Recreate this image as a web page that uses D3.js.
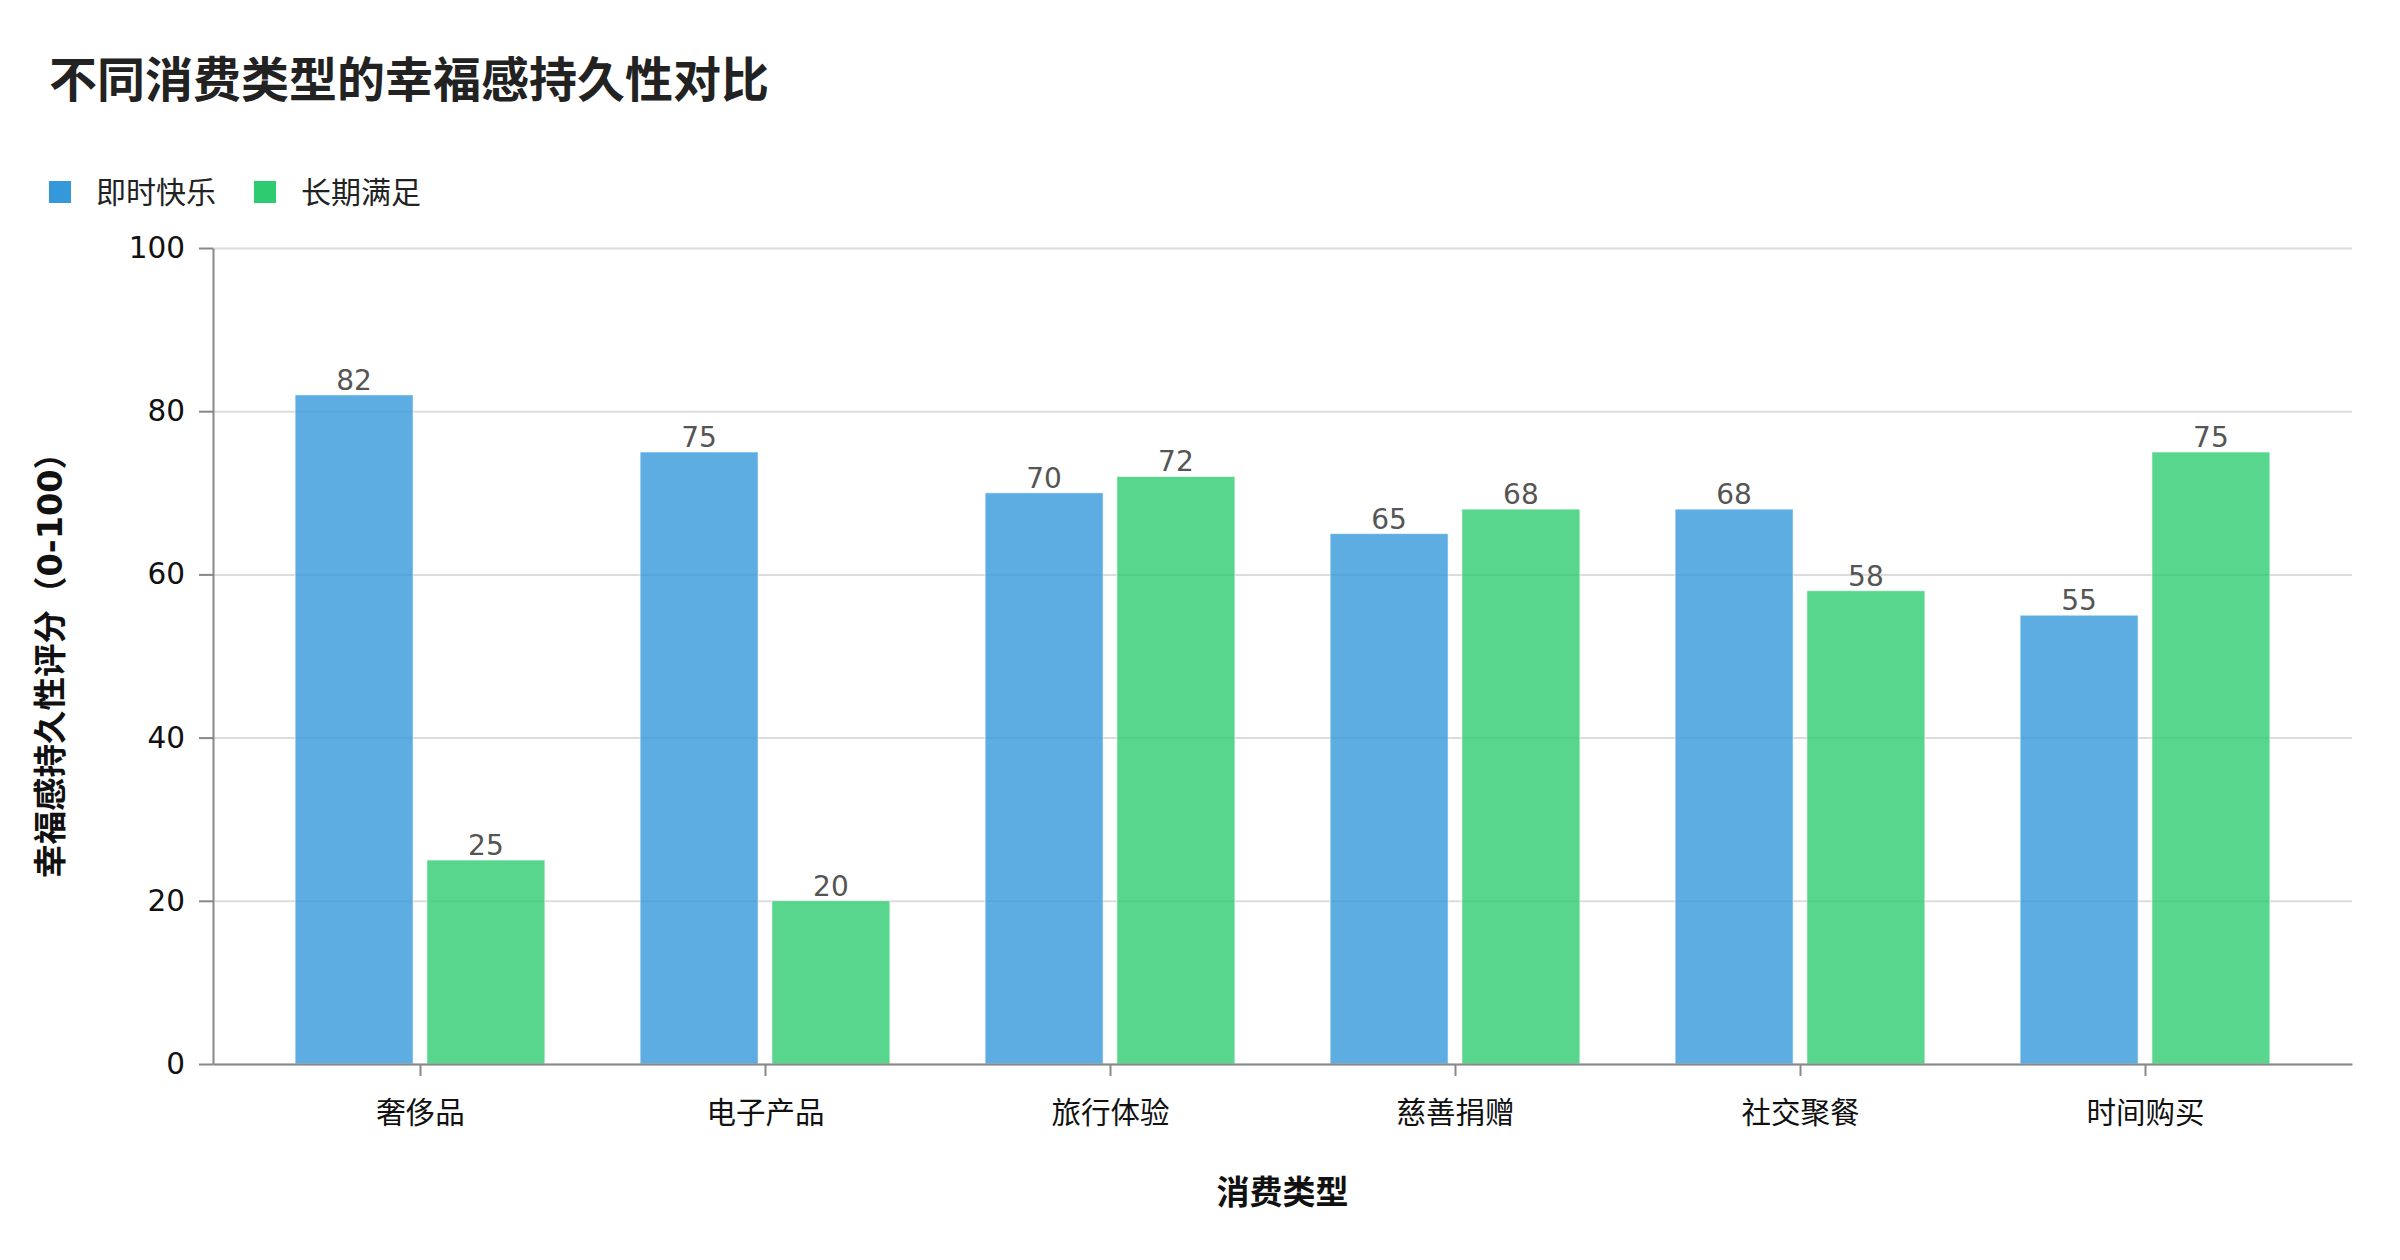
<!DOCTYPE html>
<html lang="zh">
<head>
<meta charset="utf-8">
<script src="https://d3js.org/d3.v7.min.js"></script>
<style>
body { margin: 0; background: #fff; }
text { font-family: "DejaVu Sans", "Noto Sans CJK SC", sans-serif; }
.grid line { stroke: #dcdcdc; stroke-width: 2; }
.grid path { display: none; }
.axis path, .axis line { stroke: #888; stroke-width: 2; }
.axis text { fill: #111; font-size: 29.5px; }
</style>
</head>
<body>
<svg width="2400" height="1260"></svg>
<script>
// data
var categories = ["奢侈品", "电子产品", "旅行体验", "慈善捐赠", "社交聚餐", "时间购买"];
var seriesNames = ["即时快乐", "长期满足"];
var instantJoy = [82, 75, 70, 65, 68, 55];
var longTerm = [25, 20, 72, 68, 58, 75];
var yTicks = [0, 20, 40, 60, 80, 100];
var colors = ["#3498db", "#2ecc71"];

var svg = d3.select("svg");
var marginLeft = 213, marginTop = 248, width = 2139, height = 816;

var x = d3.scalePoint().domain(categories).range([0, width]).padding(0.6);
var step = x.step();
var barW = step * 0.342, gap = step * 0.02;
var y = d3.scaleLinear().domain([0, 100]).range([height, 0]);

var g = svg.append("g").attr("transform", "translate(" + marginLeft + "," + marginTop + ")");

// grid
g.append("g")
  .attr("class", "grid")
  .call(d3.axisLeft(y).tickValues(yTicks).tickSize(-width).tickFormat(""));

// bars
var series = [instantJoy, longTerm];
series.forEach(function(vals, s) {
  g.selectAll(".bar" + s)
    .data(categories)
    .enter().append("rect")
    .attr("x", function(d) { return s == 0 ? x(d) - gap - barW : x(d) + gap; })
    .attr("y", function(d, i) { return y(vals[i]); })
    .attr("width", barW)
    .attr("height", function(d, i) { return height - y(vals[i]); })
    .attr("fill", colors[s])
    .attr("fill-opacity", 0.8)
    .attr("stroke", "#fff")
    .attr("stroke-opacity", 0.6)
    .attr("stroke-width", 1);

  g.selectAll(".lbl" + s)
    .data(categories)
    .enter().append("text")
    .attr("x", function(d) { return (s == 0 ? x(d) - gap - barW : x(d) + gap) + barW / 2; })
    .attr("y", function(d, i) { return y(vals[i]) - 5; })
    .attr("text-anchor", "middle")
    .attr("font-size", "28px")
    .attr("fill", "#555")
    .text(function(d, i) { return vals[i]; });
});

// axes
g.append("g")
  .attr("class", "axis")
  .call(d3.axisLeft(y).tickValues(yTicks).tickSize(14).tickPadding(14).tickSizeOuter(0));

g.append("g")
  .attr("class", "axis")
  .attr("transform", "translate(0," + height + ")")
  .call(d3.axisBottom(x).tickSize(12).tickPadding(26).tickSizeOuter(0))
  .selectAll("text").attr("font-size", "31px");

// axis titles
svg.append("text")
  .attr("x", marginLeft + width / 2)
  .attr("y", 1204)
  .attr("text-anchor", "middle")
  .attr("font-size", "33px")
  .attr("font-weight", "bold")
  .attr("fill", "#111")
  .text("消费类型");

svg.append("text")
  .attr("transform", "translate(62," + (marginTop + height / 2 + 1) + ") rotate(-90)")
  .attr("text-anchor", "middle")
  .attr("font-size", "33.5px")
  .attr("font-weight", "bold")
  .attr("fill", "#111")
  .text("幸福感持久性评分（0-100）");

// title
svg.append("text")
  .attr("x", 49)
  .attr("y", 97)
  .attr("font-size", "48px")
  .attr("font-weight", "bold")
  .attr("fill", "#222")
  .text("不同消费类型的幸福感持久性对比");

// legend
var legendX = [49, 254];
seriesNames.forEach(function(name, i) {
  svg.append("rect")
    .attr("x", legendX[i]).attr("y", 181)
    .attr("width", 22).attr("height", 22)
    .attr("fill", colors[i]);
  svg.append("text")
    .attr("x", legendX[i] + 47).attr("y", 203)
    .attr("font-size", "30px")
    .attr("fill", "#222")
    .text(name);
});
</script>
</body>
</html>
